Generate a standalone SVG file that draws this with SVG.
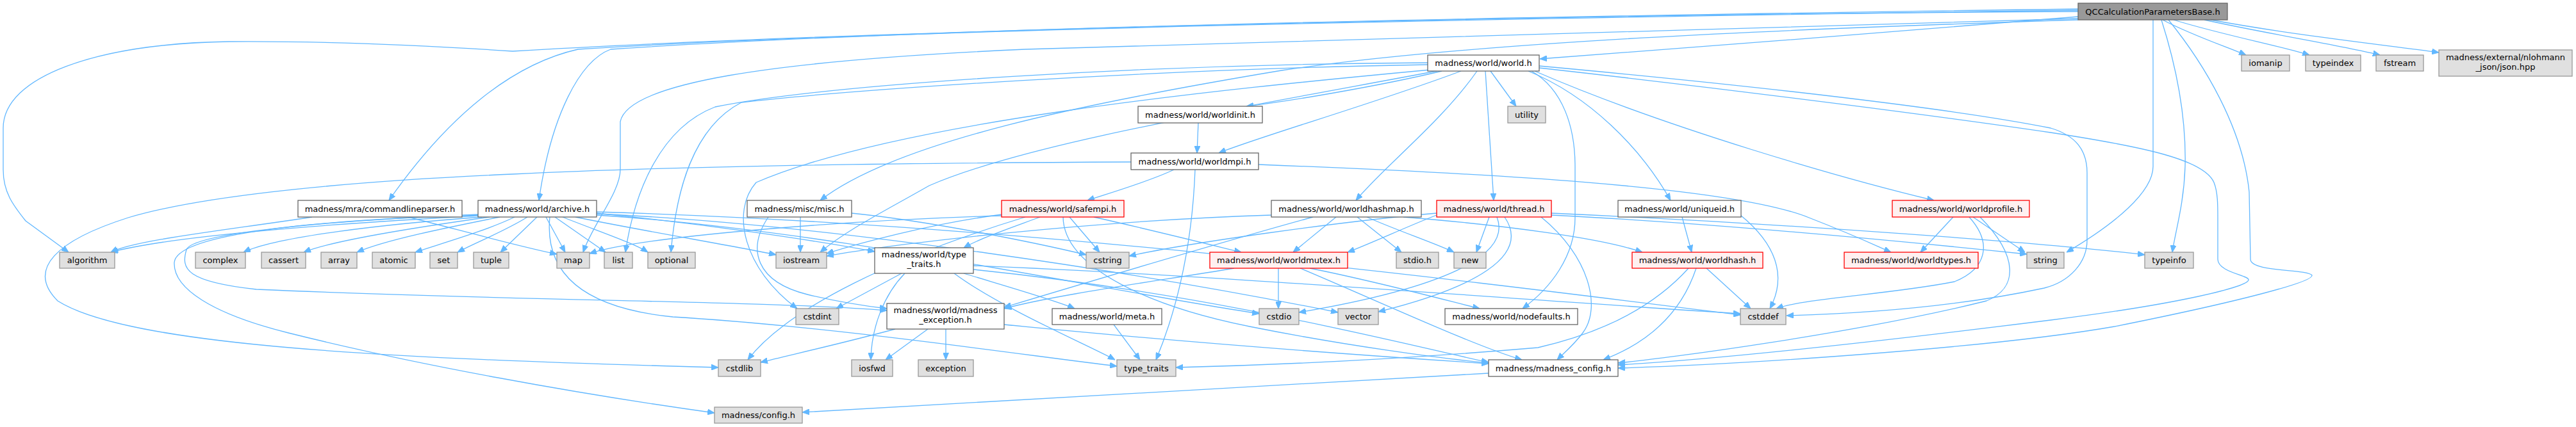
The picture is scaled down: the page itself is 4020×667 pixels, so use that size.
<svg xmlns="http://www.w3.org/2000/svg" width="4020" height="667" viewBox="0 0 4020 667">
<style>
.e path{fill:none;stroke:#63b8ff;stroke-width:1.3;marker-end:url(#arr)}
.nd rect{stroke-width:1.3}
.n rect{fill:#ffffff;stroke:#666666}
.x rect{fill:#e0e0e0;stroke:#999999}
.r rect{fill:#fff0f0;stroke:#ff0000}
.q rect{fill:#999999;stroke:#666666}
text{font-family:"DejaVu Sans","Liberation Sans",sans-serif;font-size:13px;text-anchor:middle;fill:#000000}
</style>
<defs>
<marker id="arr" viewBox="0 0 11 9" refX="11" refY="4.5" markerWidth="11" markerHeight="9" orient="auto" markerUnits="userSpaceOnUse"><path d="M0,0 L11,4.5 L0,9 z" fill="#63b8ff" stroke="#63b8ff" stroke-width="1"/></marker>
</defs>
<rect x="0" y="0" width="4020" height="667" fill="#ffffff"/>
<g id="edges" class="e">
<path d="M3243,26 C3000,45 2650,75 2403,92"/>
<path d="M3243,14 C2500,24 1500,40 953,77 C905,95 860,180 841,313"/>
<path d="M3243,16 C2500,26 1400,45 902,77 C800,100 700,180 607,313"/>
<path d="M3243,18 C2400,22 1300,50 800,80 C650,70 500,64 357,65 C150,68 5,120 5,200 L5,265 C5,300 20,320 40,345 L107,394"/>
<path d="M3243,29 C2700,45 2000,65 1600,77 C1200,95 980,130 968,190 L968,265 C968,300 925,350 910,394"/>
<path d="M3243,31 C2800,45 2300,65 2000,110 C1700,160 1400,220 1280,313"/>
<path d="M3375,31 C3420,55 3480,75 3505,86"/>
<path d="M3392,31 C3470,55 3560,72 3604,86"/>
<path d="M3440,31 C3550,55 3660,72 3714,86"/>
<path d="M3450,31 C3580,55 3720,70 3806,82"/>
<path d="M3360,31 L3360,260 C3360,300 3300,350 3225,394"/>
<path d="M3373,31 C3395,100 3412,180 3410,260 C3408,320 3395,360 3390,394"/>
<path d="M3384,31 C3440,100 3500,200 3510,300 L3512,405 C3512,425 3600,420 3608,430 C3610,440 3500,470 3300,510 C3100,545 2700,570 2525,575"/>
<path d="M2250,111 C2150,135 2000,160 1945,166"/>
<path d="M2280,111 C2150,160 1960,215 1902,239"/>
<path d="M2305,111 C2250,190 2160,260 2116,313"/>
<path d="M2318,111 L2331,313"/>
<path d="M2326,111 L2366,166"/>
<path d="M2385,111 C2480,150 2560,230 2607,313"/>
<path d="M2395,111 C2600,200 2880,280 3018,313"/>
<path d="M2390,111 C2440,140 2458,200 2458,260 L2458,340 C2458,400 2420,450 2376,482"/>
<path d="M2402,103 C2750,135 3050,170 3200,200 C3240,212 3257,235 3257,270 L3257,375 C3257,410 3230,440 3190,450 C3050,480 2900,490 2788,493"/>
<path d="M2402,106 C2750,145 3050,185 3200,207 C3350,230 3440,250 3455,285 C3461,300 3461,320 3461,340 L3461,405 C3461,425 3509,430 3509,437 C3509,448 3400,475 3200,500 C3000,525 2700,560 2525,570"/>
<path d="M2228,98 C1800,100 1300,130 1116,167 C1030,200 990,300 976,394"/>
<path d="M2228,101 C1800,108 1330,140 1157,160 C1080,200 1055,300 1047,394"/>
<path d="M2232,109 C1900,140 1400,190 1180,285 C1140,330 1160,420 1244,482"/>
<path d="M2242,111 C1900,175 1600,225 1450,290 C1380,330 1320,360 1280,394"/>
<path d="M487,339 C350,360 210,375 173,394"/>
<path d="M637,339 C720,360 810,385 869,397"/>
<path d="M748,337 C500,350 260,370 173,394"/>
<path d="M752,339 C600,350 430,370 380,394"/>
<path d="M764,339 C650,355 520,375 474,394"/>
<path d="M780,339 C700,355 600,375 557,394"/>
<path d="M803,339 C760,360 690,380 648,394"/>
<path d="M823,339 C790,360 740,380 714,394"/>
<path d="M838,339 L781,394"/>
<path d="M852,339 L882,394"/>
<path d="M866,339 L945,394"/>
<path d="M878,339 C930,360 990,380 1011,394"/>
<path d="M898,339 C1000,360 1150,385 1211,398"/>
<path d="M931,333 C1100,350 1270,375 1365,393"/>
<path d="M858,339 C850,420 900,480 1050,495 C1300,510 1600,555 1743,572"/>
<path d="M746,335 C500,345 300,365 291,390 C282,420 290,440 400,452 C800,470 1200,470 1384,485"/>
<path d="M746,336 C450,345 275,370 272,410 C270,450 330,490 450,520 C650,570 900,615 1115,645"/>
<path d="M931,336 C1300,360 1700,450 1965,490"/>
<path d="M931,334 C1300,350 1800,430 2088,488"/>
<path d="M931,331 C1600,350 2300,440 2716,492"/>
<path d="M1249,339 L1249,394"/>
<path d="M1199,339 C1165,390 1180,440 1260,460 C1310,472 1350,478 1384,482"/>
<path d="M1329,333 C1450,345 1620,380 1695,398"/>
<path d="M1669,339 L1716,394"/>
<path d="M1707,339 C1800,360 1900,385 1937,394"/>
<path d="M1623,339 C1580,355 1530,372 1504,387"/>
<path d="M1563,335 C1450,350 1340,380 1290,396"/>
<path d="M1600,339 C1400,400 1230,480 1167,562"/>
<path d="M1659,339 C1660,420 1800,480 1950,510 C2100,540 2250,560 2323,567"/>
<path d="M1563,337 C1300,345 1000,370 920,396"/>
<path d="M2085,339 L2018,394"/>
<path d="M2118,339 L2187,394"/>
<path d="M2133,339 C2180,360 2240,380 2269,394"/>
<path d="M2190,339 C2350,352 2500,372 2563,394"/>
<path d="M1984,336 C1700,345 1400,380 1290,400"/>
<path d="M2049,339 C1900,380 1700,440 1567,480"/>
<path d="M2324,339 L2304,394"/>
<path d="M2242,336 C2200,352 2140,380 2103,394"/>
<path d="M2336,339 C2360,400 2250,450 2027,488"/>
<path d="M2348,339 C2390,400 2300,450 2151,487"/>
<path d="M2242,333 C2100,345 1850,380 1762,400"/>
<path d="M2421,336 C2700,350 3000,380 3163,397"/>
<path d="M2421,333 C2800,350 3200,380 3347,398"/>
<path d="M2405,339 C2480,400 2500,480 2470,520 C2455,540 2440,552 2430,562"/>
<path d="M1995,419 L1995,482"/>
<path d="M2044,419 C2150,440 2260,470 2309,482"/>
<path d="M1926,419 C1800,440 1650,460 1567,482"/>
<path d="M2029,419 C2150,470 2300,540 2375,562"/>
<path d="M2625,339 L2640,394"/>
<path d="M2716,336 C2770,380 2790,430 2762,482"/>
<path d="M3048,339 L2997,394"/>
<path d="M3079,339 L3160,394"/>
<path d="M3073,339 C3110,380 3100,420 3050,440 C2950,460 2820,465 2772,482"/>
<path d="M3090,339 C3150,400 3150,450 3100,470 C2900,520 2600,560 2525,567"/>
<path d="M2663,419 L2732,482"/>
<path d="M2647,419 C2620,500 2560,540 2502,562"/>
<path d="M2635,419 C2580,480 2500,520 2400,543 C2200,560 2000,570 1835,574"/>
<path d="M1407,427 L1305,482"/>
<path d="M1412,427 C1380,460 1360,510 1359,562"/>
<path d="M1504,427 C1580,450 1650,470 1677,482"/>
<path d="M1489,427 C1560,480 1700,540 1740,562"/>
<path d="M1519,415 C1900,430 2400,470 2716,490"/>
<path d="M1519,421 C1900,460 2200,540 2323,566"/>
<path d="M1397,514 C1300,540 1230,555 1187,566"/>
<path d="M1448,514 L1382,562"/>
<path d="M1476,514 L1476,562"/>
<path d="M1567,507 C1900,540 2200,560 2323,568"/>
<path d="M1738,507 L1779,562"/>
<path d="M2323,583 C1900,610 1500,630 1252,644"/>
<path d="M1832,265 C1790,285 1720,305 1697,313"/>
<path d="M1865,265 C1860,400 1830,500 1804,562"/>
<path d="M1964,257 C2300,270 2700,290 2823,340 C2900,370 2930,385 2951,394"/>
<path d="M1765,253 C1300,255 1000,262 800,272 C500,285 300,310 200,340 C90,375 40,420 90,470 C200,540 600,560 1121,574"/>
<path d="M1870,192 L1868,239"/>
</g>
<g id="n_qc" class="nd q"><rect x="3243" y="5" width="233" height="26"/><text x="3359.5" y="22.5">QCCalculationParametersBase.h</text></g>
<g id="n_world" class="nd n"><rect x="2228" y="86" width="174" height="25"/><text x="2315" y="103">madness/world/world.h</text></g>
<g id="n_iomanip" class="nd x"><rect x="3498" y="86" width="75" height="25"/><text x="3535.5" y="103">iomanip</text></g>
<g id="n_typeindex" class="nd x"><rect x="3598" y="86" width="86" height="25"/><text x="3641" y="103">typeindex</text></g>
<g id="n_fstream" class="nd x"><rect x="3708" y="86" width="74" height="25"/><text x="3745" y="103">fstream</text></g>
<g id="n_json" class="nd x"><rect x="3806" y="78" width="208" height="41"/><text x="3910" y="94">madness/external/nlohmann</text><text x="3910" y="109">_json/json.hpp</text></g>
<g id="n_worldinit" class="nd n"><rect x="1776" y="166" width="194" height="26"/><text x="1873" y="183.5">madness/world/worldinit.h</text></g>
<g id="n_utility" class="nd x"><rect x="2353" y="166" width="59" height="26"/><text x="2382.5" y="183.5">utility</text></g>
<g id="n_worldmpi" class="nd n"><rect x="1765" y="239" width="199" height="26"/><text x="1864.5" y="256.5">madness/world/worldmpi.h</text></g>
<g id="n_cmd" class="nd n"><rect x="465" y="313" width="256" height="26"/><text x="593" y="330.5">madness/mra/commandlineparser.h</text></g>
<g id="n_archive" class="nd n"><rect x="746" y="313" width="185" height="26"/><text x="838.5" y="330.5">madness/world/archive.h</text></g>
<g id="n_misc" class="nd n"><rect x="1166" y="313" width="163" height="26"/><text x="1247.5" y="330.5">madness/misc/misc.h</text></g>
<g id="n_safempi" class="nd r"><rect x="1563" y="313" width="191" height="26"/><text x="1658.5" y="330.5">madness/world/safempi.h</text></g>
<g id="n_worldhashmap" class="nd n"><rect x="1984" y="313" width="234" height="26"/><text x="2101" y="330.5">madness/world/worldhashmap.h</text></g>
<g id="n_thread" class="nd r"><rect x="2242" y="313" width="179" height="26"/><text x="2331.5" y="330.5">madness/world/thread.h</text></g>
<g id="n_uniqueid" class="nd n"><rect x="2525" y="313" width="192" height="26"/><text x="2621" y="330.5">madness/world/uniqueid.h</text></g>
<g id="n_worldprofile" class="nd r"><rect x="2953" y="313" width="214" height="26"/><text x="3060" y="330.5">madness/world/worldprofile.h</text></g>
<g id="n_algorithm" class="nd x"><rect x="93" y="394" width="86" height="25"/><text x="136" y="411">algorithm</text></g>
<g id="n_complex" class="nd x"><rect x="305" y="394" width="78" height="25"/><text x="344" y="411">complex</text></g>
<g id="n_cassert" class="nd x"><rect x="408" y="394" width="69" height="25"/><text x="442.5" y="411">cassert</text></g>
<g id="n_array" class="nd x"><rect x="501" y="394" width="56" height="25"/><text x="529" y="411">array</text></g>
<g id="n_atomic" class="nd x"><rect x="581" y="394" width="67" height="25"/><text x="614.5" y="411">atomic</text></g>
<g id="n_set" class="nd x"><rect x="671" y="394" width="43" height="25"/><text x="692.5" y="411">set</text></g>
<g id="n_tuple" class="nd x"><rect x="739" y="394" width="55" height="25"/><text x="766.5" y="411">tuple</text></g>
<g id="n_map" class="nd x"><rect x="869" y="394" width="51" height="25"/><text x="894.5" y="411">map</text></g>
<g id="n_list" class="nd x"><rect x="943" y="394" width="44" height="25"/><text x="965" y="411">list</text></g>
<g id="n_optional" class="nd x"><rect x="1011" y="394" width="74" height="25"/><text x="1048" y="411">optional</text></g>
<g id="n_iostream" class="nd x"><rect x="1211" y="394" width="79" height="25"/><text x="1250.5" y="411">iostream</text></g>
<g id="n_wtypetraits" class="nd n"><rect x="1365" y="387" width="154" height="40"/><text x="1442" y="402">madness/world/type</text><text x="1442" y="417">_traits.h</text></g>
<g id="n_cstring" class="nd x"><rect x="1695" y="394" width="67" height="25"/><text x="1728.5" y="411">cstring</text></g>
<g id="n_worldmutex" class="nd r"><rect x="1888" y="394" width="215" height="25"/><text x="1995.5" y="411">madness/world/worldmutex.h</text></g>
<g id="n_stdio" class="nd x"><rect x="2179" y="394" width="66" height="25"/><text x="2212" y="411">stdio.h</text></g>
<g id="n_new" class="nd x"><rect x="2269" y="394" width="50" height="25"/><text x="2294" y="411">new</text></g>
<g id="n_worldhash" class="nd r"><rect x="2547" y="394" width="204" height="25"/><text x="2649" y="411">madness/world/worldhash.h</text></g>
<g id="n_worldtypes" class="nd r"><rect x="2878" y="394" width="209" height="25"/><text x="2982.5" y="411">madness/world/worldtypes.h</text></g>
<g id="n_string" class="nd x"><rect x="3163" y="394" width="58" height="25"/><text x="3192" y="411">string</text></g>
<g id="n_typeinfo" class="nd x"><rect x="3347" y="394" width="76" height="25"/><text x="3385" y="411">typeinfo</text></g>
<g id="n_cstdint" class="nd x"><rect x="1242" y="482" width="67" height="25"/><text x="1275.5" y="499">cstdint</text></g>
<g id="n_mexc" class="nd n"><rect x="1384" y="474" width="183" height="40"/><text x="1475.5" y="489">madness/world/madness</text><text x="1475.5" y="504">_exception.h</text></g>
<g id="n_meta" class="nd n"><rect x="1642" y="482" width="171" height="25"/><text x="1727.5" y="499">madness/world/meta.h</text></g>
<g id="n_cstdio" class="nd x"><rect x="1965" y="482" width="62" height="25"/><text x="1996" y="499">cstdio</text></g>
<g id="n_vector" class="nd x"><rect x="2088" y="482" width="63" height="25"/><text x="2119.5" y="499">vector</text></g>
<g id="n_nodefaults" class="nd n"><rect x="2255" y="482" width="207" height="25"/><text x="2358.5" y="499">madness/world/nodefaults.h</text></g>
<g id="n_cstddef" class="nd x"><rect x="2716" y="482" width="71" height="25"/><text x="2751.5" y="499">cstddef</text></g>
<g id="n_cstdlib" class="nd x"><rect x="1121" y="562" width="66" height="26"/><text x="1154" y="579.5">cstdlib</text></g>
<g id="n_iosfwd" class="nd x"><rect x="1329" y="562" width="64" height="26"/><text x="1361" y="579.5">iosfwd</text></g>
<g id="n_exception" class="nd x"><rect x="1433" y="562" width="86" height="26"/><text x="1476" y="579.5">exception</text></g>
<g id="n_typetraits" class="nd x"><rect x="1743" y="562" width="92" height="26"/><text x="1789" y="579.5">type_traits</text></g>
<g id="n_mconfig" class="nd n"><rect x="2323" y="562" width="202" height="26"/><text x="2424" y="579.5">madness/madness_config.h</text></g>
<g id="n_config" class="nd x"><rect x="1115" y="636" width="137" height="25"/><text x="1183.5" y="653">madness/config.h</text></g>
</svg>
